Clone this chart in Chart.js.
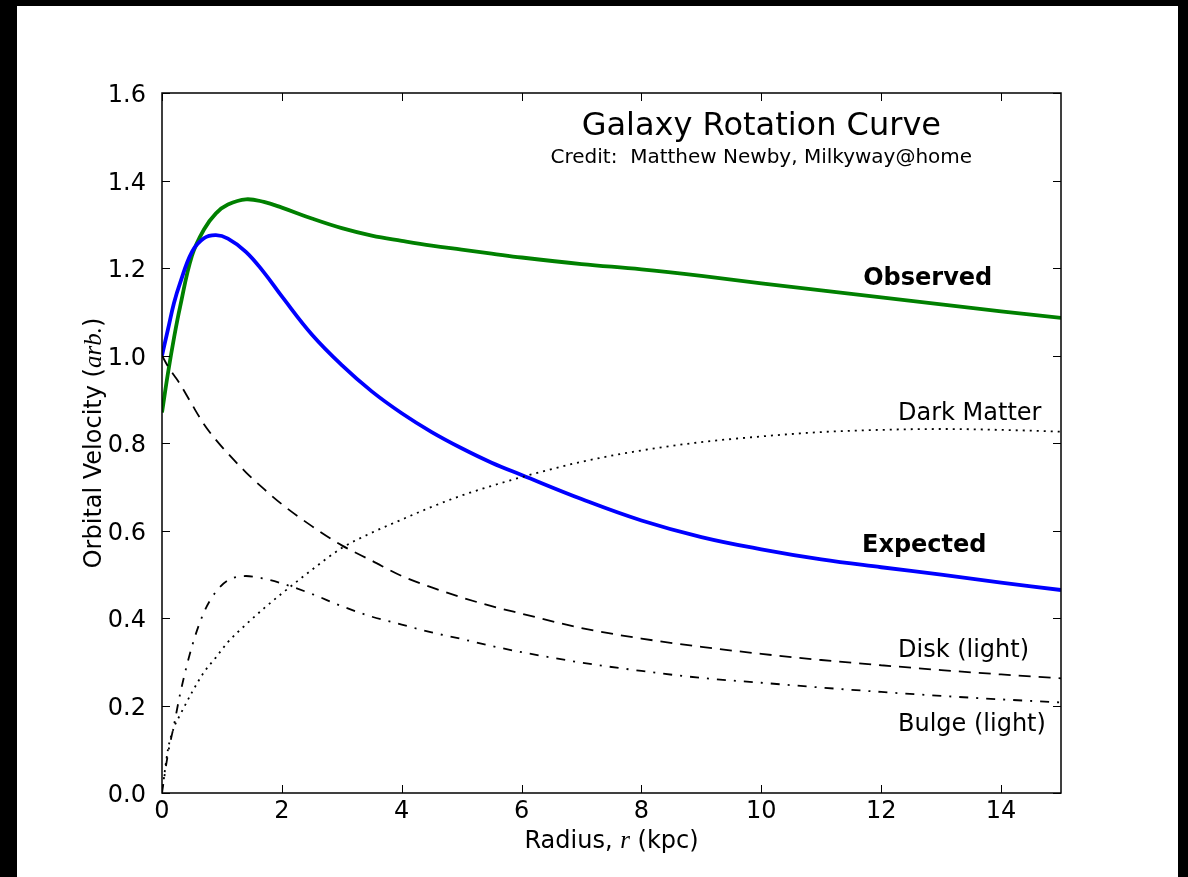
<!DOCTYPE html>
<html>
<head>
<meta charset="utf-8">
<title>Galaxy Rotation Curve</title>
<script src="https://cdn.jsdelivr.net/npm/chart.js@4.4.1/dist/chart.umd.min.js"></script>
<style>
  html, body { margin: 0; padding: 0; background: #000; }
  body { width: 1188px; height: 877px; position: relative; overflow: hidden; }
  #wrap { position: absolute; left: 17px; top: 6px; width: 1161px; height: 871px; background: #fff; }
  canvas { display: block; }
</style>
</head>
<body>
<div id="wrap"><canvas id="rotation" width="1161" height="871"></canvas></div>
<script>
// radius in kpc, velocities in arbitrary units
const radius     = [0, 0.1, 0.2, 0.3, 0.5, 0.7, 0.9, 1.1, 1.4, 1.7, 2, 2.5, 3, 3.5, 4, 4.5, 5, 5.5, 6, 7, 8, 9, 10, 11, 12, 13, 14, 15];
const observed   = [0.87, 0.96, 1.04, 1.11, 1.228, 1.288, 1.325, 1.345, 1.357, 1.351, 1.338, 1.313, 1.291, 1.274, 1.262, 1.251, 1.242, 1.233, 1.224, 1.209, 1.197, 1.182, 1.165, 1.149, 1.133, 1.117, 1.101, 1.086];
const expected   = [1.0, 1.06, 1.12, 1.165, 1.237, 1.268, 1.275, 1.267, 1.237, 1.19, 1.135, 1.048, 0.978, 0.918, 0.868, 0.825, 0.788, 0.755, 0.727, 0.672, 0.623, 0.585, 0.557, 0.534, 0.516, 0.499, 0.481, 0.464];
const darkMatter = [0, 0.1, 0.15, 0.178, 0.23, 0.276, 0.31, 0.345, 0.385, 0.422, 0.456, 0.51, 0.56, 0.595, 0.625, 0.654, 0.68, 0.702, 0.722, 0.757, 0.783, 0.802, 0.815, 0.825, 0.83, 0.832, 0.83, 0.826];
const disk       = [1.0, 0.975, 0.955, 0.935, 0.888, 0.843, 0.807, 0.776, 0.733, 0.695, 0.66, 0.61, 0.566, 0.531, 0.496, 0.47, 0.447, 0.427, 0.41, 0.377, 0.353, 0.334, 0.318, 0.304, 0.292, 0.281, 0.271, 0.262];
const bulge      = [0, 0.09, 0.155, 0.225, 0.335, 0.413, 0.46, 0.486, 0.496, 0.49, 0.479, 0.455, 0.427, 0.403, 0.385, 0.367, 0.352, 0.336, 0.322, 0.298, 0.279, 0.263, 0.252, 0.241, 0.231, 0.222, 0.214, 0.207];

const xTicks = [0, 2, 4, 6, 8, 10, 12, 14];
const yTicks = [0, 0.2, 0.4, 0.6, 0.8, 1.0, 1.2, 1.4, 1.6];

const FONT = 'DejaVu Sans';

// text placed in data coordinates, like plt.text()
const curveLabels = [
  { text: 'Observed',      x: 11.7,  y: 1.161, bold: true },
  { text: 'Expected',      x: 11.68, y: 0.551, bold: true },
  { text: 'Dark Matter',   x: 12.28, y: 0.853 },
  { text: 'Disk (light)',  x: 12.28, y: 0.311 },
  { text: 'Bulge (light)', x: 12.28, y: 0.142 }
];

const toPoints = values => radius.map((r, i) => ({ x: r, y: values[i] }));

function drawMixed(ctx, parts, cx, cy) {
  // parts: [text, font] pairs, drawn centred on cx
  let total = 0;
  parts.forEach(p => { ctx.font = p[1]; total += ctx.measureText(p[0]).width; });
  let x = cx - total / 2;
  parts.forEach(p => {
    ctx.font = p[1];
    ctx.fillText(p[0], x, cy);
    x += ctx.measureText(p[0]).width;
  });
}

const framePlugin = {
  id: 'frame',
  afterDatasetsDraw(chart) {
    const { ctx, chartArea: a, scales: { x, y } } = chart;
    ctx.save();
    ctx.strokeStyle = '#000';
    ctx.lineWidth = 1;
    ctx.beginPath();
    xTicks.forEach(v => {
      const px = Math.round(x.getPixelForValue(v)) + 0.5;
      ctx.moveTo(px, a.bottom); ctx.lineTo(px, a.bottom - 8);
      ctx.moveTo(px, a.top); ctx.lineTo(px, a.top + 8);
    });
    yTicks.forEach(v => {
      const py = Math.round(y.getPixelForValue(v)) + 0.5;
      ctx.moveTo(a.left, py); ctx.lineTo(a.left + 8, py);
      ctx.moveTo(a.right, py); ctx.lineTo(a.right - 8, py);
    });
    ctx.stroke();
    ctx.lineWidth = 1.5;
    ctx.strokeRect(a.left, a.top, a.right - a.left, a.bottom - a.top);

    ctx.fillStyle = '#000';
    ctx.textBaseline = 'alphabetic';
    ctx.textAlign = 'left';
    curveLabels.forEach(l => {
      ctx.font = (l.bold ? 'bold ' : '') + '24px "' + FONT + '"';
      ctx.fillText(l.text, x.getPixelForValue(l.x), y.getPixelForValue(l.y));
    });

    ctx.textAlign = 'center';
    ctx.font = '32px "' + FONT + '"';
    ctx.fillText('Galaxy Rotation Curve', x.getPixelForValue(10), y.getPixelForValue(1.503));
    ctx.font = '20px "' + FONT + '"';
    ctx.fillText('Credit:  Matthew Newby, Milkyway@home', x.getPixelForValue(10), y.getPixelForValue(1.439));

    // axis titles with mathtext-like italic parts
    ctx.textAlign = 'left';
    const plain = '24px "' + FONT + '"';
    const ital = 'italic 25px "Liberation Serif"';
    drawMixed(ctx, [['Radius, ', plain], ['r', ital], [' (kpc)', plain]], (a.left + a.right) / 2, a.bottom + 55);
    ctx.translate(a.left - 61, (a.top + a.bottom) / 2);
    ctx.rotate(-Math.PI / 2);
    drawMixed(ctx, [['Orbital Velocity (', plain], ['arb.', ital], [')', plain]], 0, 0);
    ctx.restore();
  }
};

const lineSet = (label, values, color, width, dash, smooth) => ({
  label,
  data: toPoints(values),
  borderColor: color,
  borderWidth: width,
  borderDash: dash,
  pointRadius: 0,
  fill: false,
  tension: 0.4,
  cubicInterpolationMode: smooth
});

new Chart(document.getElementById('rotation'), {
  type: 'line',
  data: {
    datasets: [
      lineSet('Disk (light)', disk, '#000', 1.8, [12, 8], 'monotone'),
      lineSet('Bulge (light)', bulge, '#000', 1.8, [9, 8, 2, 8], 'monotone'),
      lineSet('Dark Matter', darkMatter, '#000', 1.8, [2, 5], 'monotone'),
      lineSet('Expected', expected, '#0000ff', 3.8, [], 'default'),
      lineSet('Observed', observed, '#008000', 3.8, [], 'default')
    ]
  },
  options: {
    responsive: false,
    animation: false,
    devicePixelRatio: 1,
    layout: { padding: { left: 0, right: 117, top: 87, bottom: 0 } },
    plugins: { legend: { display: false }, tooltip: { enabled: false } },
    scales: {
      x: {
        type: 'linear',
        min: 0,
        max: 15,
        afterFit: s => { s.height = 84; },
        afterBuildTicks: s => { s.ticks = xTicks.map(v => ({ value: v })); },
        grid: { display: false },
        border: { display: false },
        ticks: { color: '#000', padding: -4, font: { family: FONT, size: 24 }, callback: v => String(v) }
      },
      y: {
        min: 0,
        max: 1.6,
        afterFit: s => { s.width = 145; },
        afterBuildTicks: s => { s.ticks = yTicks.map(v => ({ value: v })); },
        grid: { display: false },
        border: { display: false },
        ticks: { color: '#000', padding: 8, labelOffset: 3, font: { family: FONT, size: 24 }, callback: v => v.toFixed(1) }
      }
    }
  },
  plugins: [framePlugin]
});
</script>
</body>
</html>
